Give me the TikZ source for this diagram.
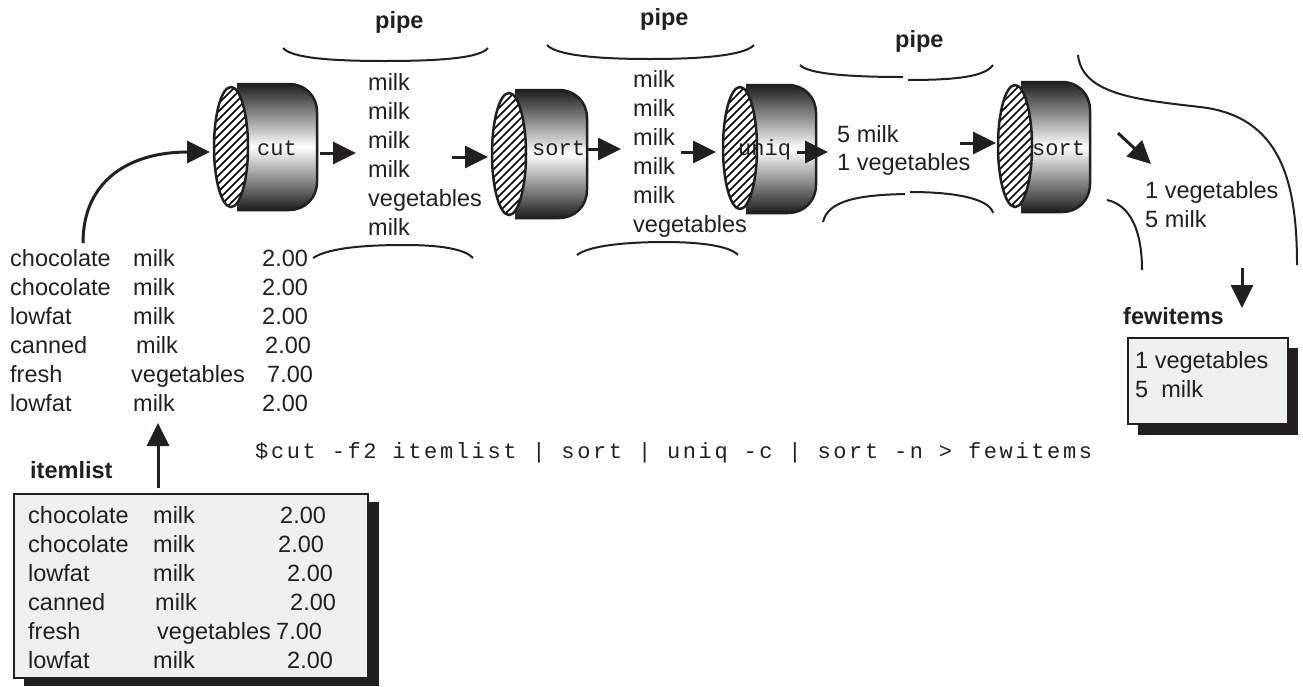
\documentclass[tikz,border=0pt]{standalone}
\usepackage{fontspec}
\setmainfont{Liberation Sans}
\newfontfamily\monofont{Liberation Mono}
\newfontfamily\cmdfont[LetterSpace=12]{Liberation Mono}
\usetikzlibrary{arrows.meta}
\definecolor{boxfill}{HTML}{EEEFF1}
\definecolor{ink}{HTML}{231F20}
\newcommand\drum[9]{%
  \shade[top color=black!88, bottom color=black!88, middle color=white]
    ({#1+6},#4) -- ({#6-28},#4) .. controls ({#6-12},#4) and (#6,{#4+12}) .. (#6,{#4+28})
    -- (#6,{#5-28}) .. controls (#6,{#5-12}) and ({#6-12},#5) .. ({#6-28},#5) -- ({#1+6},#5) -- cycle;
  \draw[drumline] ({#1+6},#4) -- ({#6-28},#4) .. controls ({#6-12},#4) and (#6,{#4+12}) .. (#6,{#4+28})
    -- (#6,{#5-28}) .. controls (#6,{#5-12}) and ({#6-12},#5) .. ({#6-28},#5) -- ({#1+6},#5);
  \begin{scope}
    \clip (#1,#2) ellipse [x radius=17pt, y radius=#3pt];
    \fill[white] (#1,#2) ellipse [x radius=17pt, y radius=#3pt];
    \foreach \k in {-96,-88,...,96}
      \draw[line width=1.6pt] ({#1-22},{#2+(\k)+22}) -- ({#1+22},{#2+(\k)-22});
  \end{scope}
  \draw[drumline] (#1,#2) ellipse [x radius=17pt, y radius=#3pt];
  \node[mono] (#7) at (#9,155) {#8};
}
\begin{document}
\begin{tikzpicture}[x=1pt,y=-1pt,
  txt/.style={font=\fontsize{23.5}{28}\selectfont, text=ink, inner sep=0pt, anchor=base west},
  bold/.style={txt, font=\fontsize{23.5}{28}\selectfont\bfseries},
  mono/.style={font=\monofont\fontsize{22}{26}\selectfont, text=ink, inner sep=0pt, anchor=base west},
  cmd/.style={font=\cmdfont\fontsize{22}{26}\selectfont, text=ink, inner sep=0pt, anchor=base west},
  arr/.style={line width=3pt, draw=ink, -{Triangle[length=23pt,width=22pt]}},
  brace/.style={line width=2pt, draw=ink},
  drumline/.style={line width=2.5pt, draw=ink},
  shadow/.style={fill=ink},
  filebox/.style={draw=ink, line width=2pt, fill=boxfill, anchor=north west, inner sep=0pt},
]
\useasboundingbox (0,0) rectangle (1303,686);

% ---------- file boxes ----------
\fill[shadow] (24,502) rectangle (379,686);
\node[filebox, minimum width=354pt, minimum height=184pt] (itembox) at (13,493) {};
\fill[shadow] (1138,348) rectangle (1298,435);
\node[filebox, minimum width=160pt, minimum height=86pt] (fewbox) at (1127,337) {};

\node[bold] (itemlbl) at (30,478) {itemlist};
\node[bold] (fewlbl) at (1123,324) {fewitems};

% ---------- top list ----------
\foreach \yy/\a/\bx/\b/\cx/\c [count=\i] in
  {266/chocolate/133/milk/262/2.00, 295/chocolate/133/milk/262/2.00,
   324/lowfat/133/milk/262/2.00, 353/canned/136/milk/265/2.00,
   382/fresh/131/vegetables/267/7.00, 411/lowfat/133/milk/262/2.00}
{ \node[txt] (la\i) at (10,\yy) {\a};
  \node[txt] (lb\i) at (\bx,\yy) {\b};
  \node[txt] (lc\i) at (\cx,\yy) {\c}; }

% ---------- list in box ----------
\foreach \yy/\a/\bx/\b/\cx/\c [count=\i] in
  {523/chocolate/153/milk/280/2.00, 552/chocolate/153/milk/278/2.00,
   581/lowfat/153/milk/287/2.00, 610/canned/155/milk/290/2.00,
   639/fresh/157/vegetables/276/7.00, 668/lowfat/153/milk/287/2.00}
{ \node[txt] (ba\i) at (28,\yy) {\a};
  \node[txt] (bb\i) at (\bx,\yy) {\b};
  \node[txt] (bc\i) at (\cx,\yy) {\c}; }

% ---------- intermediate streams ----------
\foreach \w [count=\i] in {milk,milk,milk,milk,vegetables,milk}
  \node[txt] (ca\i) at (368,{61+29*\i}) {\w};
\foreach \w [count=\i] in {milk,milk,milk,milk,milk,vegetables}
  \node[txt] (cb\i) at (633,{58+29*\i}) {\w};
\node[txt] (u1) at (837,142) {5 milk};
\node[txt] (u2) at (837,170) {1 vegetables};
\node[txt] (s1) at (1145,198) {1 vegetables};
\node[txt] (s2) at (1145,227) {5 milk};
\node[txt] (f1) at (1135,368) {1 vegetables};
\node[txt] (f2) at (1135,397) {5~~milk};

% ---------- pipe labels and braces ----------
\node[bold] (p1) at (375,28) {pipe};
\node[bold] (p2) at (640,25) {pipe};
\node[bold] (p3) at (895,47) {pipe};

\draw[brace] (283,48) .. controls (292,58) and (330,61) .. (385,61)
             .. controls (440,61) and (480,58) .. (488,48);
\draw[brace] (547,45) .. controls (556,55) and (595,59) .. (650,59)
             .. controls (705,59) and (745,55) .. (754,45);
\draw[brace] (800,65) .. controls (808,74) and (850,77) .. (903,77);
\draw[brace] (908,80) .. controls (960,80) and (985,76) .. (993,65);

\draw[brace] (313,258) .. controls (330,247) and (370,245) .. (405,245)
             .. controls (440,245) and (465,249) .. (473,258);
\draw[brace] (577,255) .. controls (590,245) and (630,242) .. (665,242)
             .. controls (700,242) and (730,246) .. (738,255);
\draw[brace] (823,222) .. controls (828,200) and (860,195) .. (905,194);
\draw[brace] (910,192) .. controls (960,192) and (990,200) .. (993,213);

\draw[brace] (1078,55) .. controls (1082,95) and (1140,100) .. (1200,107)
             .. controls (1280,116) and (1297,180) .. (1297,265);
\draw[brace] (1107,200) .. controls (1130,205) and (1142,230) .. (1142,270);

% ---------- drums ----------
\drum{231}{147}{60}{84}{210}{317}{cut}{cut}{257}
\drum{509}{154}{61}{90}{218}{587}{sortA}{sort}{532}
\drum{740}{148}{61}{85}{213}{816}{uniq}{uniq}{738}
\drum{1015}{146}{61}{82}{212}{1090}{sortB}{sort}{1032}

% ---------- command ----------
\node[cmd] (command) at (255,458) {\$cut -f2 itemlist | sort | uniq -c | sort -n > fewitems};

% ---------- arrows ----------
\coordinate (arcS) at (83,243);
\coordinate (arcE) at (210,152);
\draw[arr] (arcS) .. controls (83,180) and (130,152) .. (arcE);

\coordinate (upS) at (158,488);
\coordinate (upE) at (158,423);
\draw[arr] (upS) -- (upE);

\coordinate (a1s) at (320,153); \coordinate (a1e) at (356,153);
\coordinate (a2s) at (452,157); \coordinate (a2e) at (488,157);
\coordinate (a3s) at (586,149); \coordinate (a3e) at (621,149);
\coordinate (a4s) at (681,152); \coordinate (a4e) at (716,152);
\coordinate (a5s) at (797,152); \coordinate (a5e) at (828,152);
\coordinate (a6s) at (960,143); \coordinate (a6e) at (996,143);
\coordinate (a7s) at (1118,133); \coordinate (a7e) at (1151,164);
\coordinate (a8s) at (1242,268); \coordinate (a8e) at (1242,308);
\foreach \n in {1,...,8} \draw[arr] (a\n s) -- (a\n e);
\end{tikzpicture}
\end{document}
